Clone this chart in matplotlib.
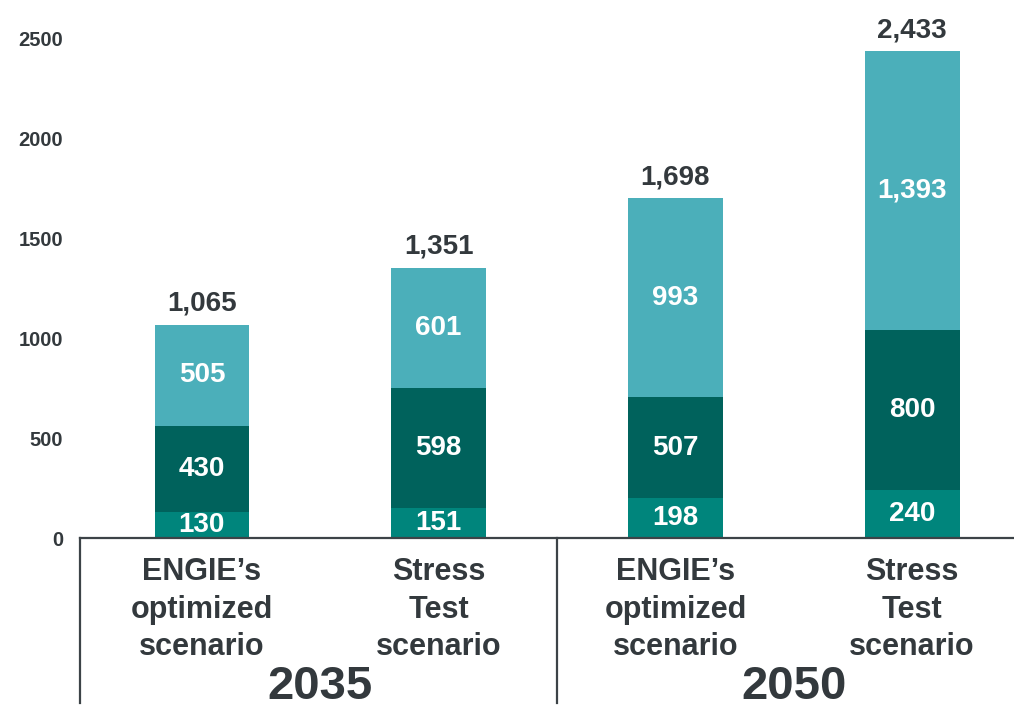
import matplotlib
matplotlib.use("Agg")
import matplotlib.pyplot as plt
from matplotlib import font_manager
import numpy as np

# data
years = ["2035", "2050"]
scenarios = ["ENGIE\u2019s\noptimized\nscenario", "Stress\nTest\nscenario",
             "ENGIE\u2019s\noptimized\nscenario", "Stress\nTest\nscenario"]
bottom_vals = [130, 151, 198, 240]
middle_vals = [430, 598, 507, 800]
top_vals = [505, 601, 993, 1393]
totals = [1065, 1351, 1698, 2433]
yticks = [0, 500, 1000, 1500, 2000, 2500]

c_bottom = "#00857C"
c_middle = "#00625C"
c_top = "#4BAFBA"
dark = "#33393D"

names = {f.name for f in font_manager.fontManager.ttflist}
narrow = "Liberation Sans Narrow" if "Liberation Sans Narrow" in names else "Liberation Sans"
wide = "Liberation Sans"

W, H = 1014, 710
fig = plt.figure(figsize=(W / 100, H / 100), dpi=100)
ax = fig.add_axes([80 / W, 1 - 538 / H, 1 - 80 / W, 538 / H])

x = np.arange(len(scenarios))
w = 0.4
b1 = ax.bar(x, bottom_vals, w, color=c_bottom, zorder=2)
b2 = ax.bar(x, middle_vals, w, bottom=bottom_vals, color=c_middle, zorder=2)
top_bottom = np.array(bottom_vals) + np.array(middle_vals)
b3 = ax.bar(x, np.array(totals) - top_bottom, w, bottom=top_bottom, color=c_top, zorder=2)

for bars, vals in [(b1, bottom_vals), (b2, middle_vals), (b3, top_vals)]:
    for r, v in zip(bars, vals):
        ax.text(r.get_x() + r.get_width() / 2, r.get_y() + r.get_height() / 2,
                f"{v:,}", ha="center", va="center", color="white",
                fontsize=20, fontweight="bold", family=narrow)

for xi, t in zip(x, totals):
    ax.annotate(f"{t:,}", (xi, t), xytext=(0, 6), textcoords="offset points",
                ha="center", va="bottom", color=dark, fontsize=20,
                fontweight="bold", family=narrow)

ax.set_xlim(-0.515, 3.43)
ax.set_ylim(0, 2690)
ax.set_yticks(yticks)
ax.set_yticklabels([str(v) for v in yticks], fontsize=14.5, fontweight="bold",
                   color=dark, family=wide)
ax.tick_params(axis="y", length=0, pad=12)
ax.set_xticks([])
for s in ["top", "right", "left"]:
    ax.spines[s].set_visible(False)
ax.spines["bottom"].set_color("#3C4347")
ax.spines["bottom"].set_linewidth(1.6)

trans = ax.get_xaxis_transform()
y_end = -(703 - 538) / 538
for xv in [-0.515, 1.5]:
    ax.plot([xv, xv], [0, y_end], transform=trans, clip_on=False,
            color="#3C4347", lw=1.6)

for xi, lab in zip(x, scenarios):
    ax.text(xi, -(557 - 538) / 538, lab, transform=trans, ha="center", va="top",
            fontsize=22, fontweight="bold", color=dark, family=wide,
            linespacing=1.33)

for i, yr in enumerate(years):
    ax.text(2 * i + 0.5, -(687 - 538) / 538, yr, transform=trans, ha="center",
            va="center", fontsize=34, fontweight="bold", color=dark, family=narrow)

fig.savefig("out.png", dpi=100)
